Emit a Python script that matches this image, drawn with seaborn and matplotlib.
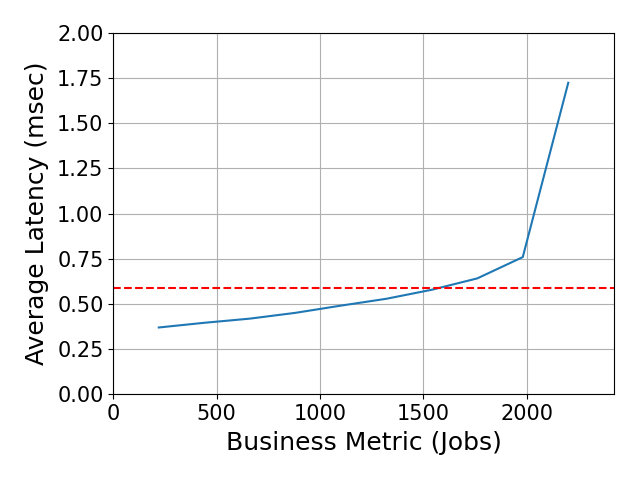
import seaborn as sns
import matplotlib
matplotlib.use('Agg')
import matplotlib.pyplot as plt
import pandas as pd

jobs = [220, 440, 660, 880, 1100, 1320, 1540, 1760, 1980, 2200]
latency = [0.369, 0.395, 0.418, 0.450, 0.490, 0.528, 0.578, 0.641, 0.759, 1.725]
threshold = 0.587

df = pd.DataFrame({'Jobs': jobs, 'Latency': latency})

fig, ax = plt.subplots(figsize=(6.4, 4.8), dpi=100)
sns.lineplot(x='Jobs', y='Latency', data=df, ax=ax, color='#1f77b4', linewidth=1.5)
ax.axhline(threshold, color='red', linestyle='--', linewidth=1.5)

ax.set_xlim(0, max(jobs) * 1.1)
ax.set_ylim(0, 2)
ax.grid(True, color='#b0b0b0', linewidth=0.8)
ax.set_xlabel('Business Metric (Jobs)', fontsize=18, labelpad=5)
ax.set_ylabel('Average Latency (msec)', fontsize=18, labelpad=6)
ax.tick_params(labelsize=15)

plt.subplots_adjust(left=0.177, right=0.959, top=0.931, bottom=0.179)
plt.savefig('out.png')
